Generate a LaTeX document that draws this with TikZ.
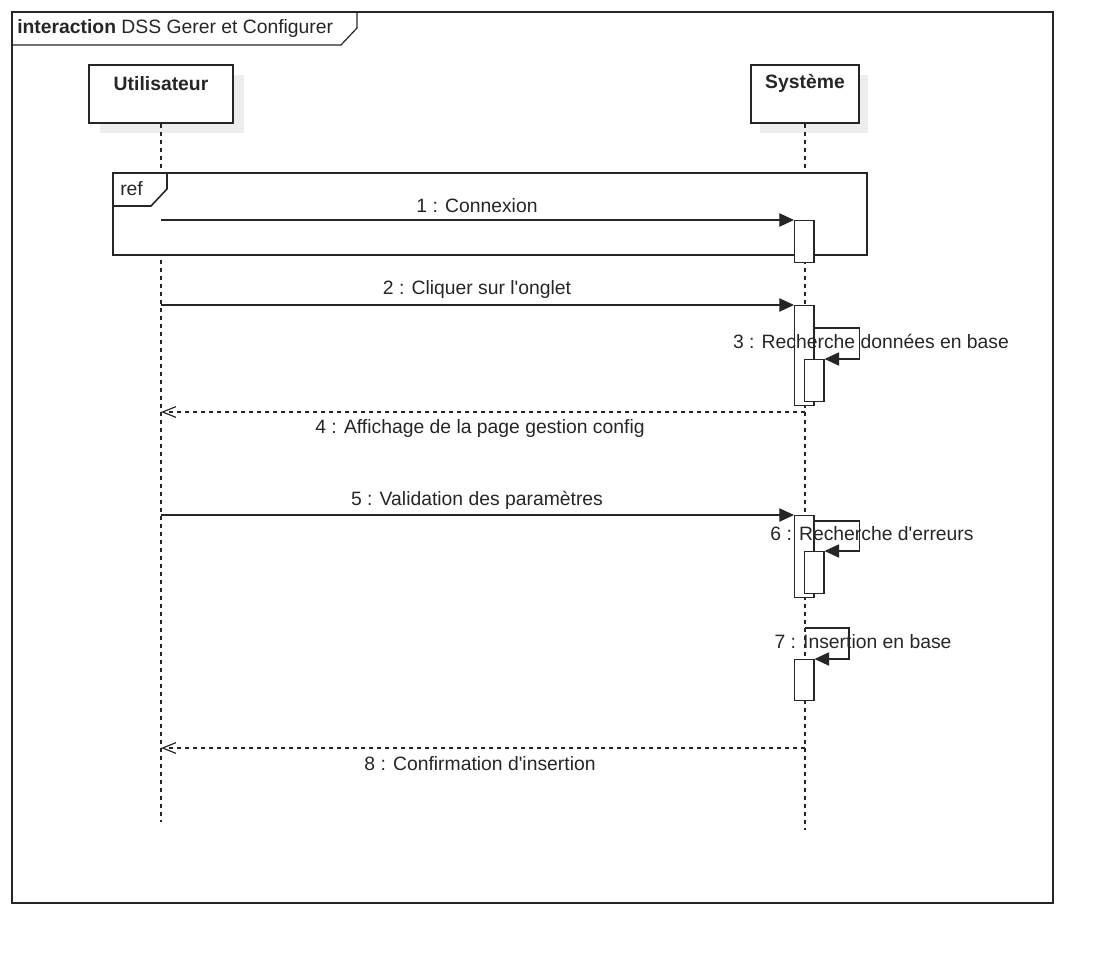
\documentclass[tikz,border=0pt]{standalone}
\usepackage{fontspec}
\setmainfont{Liberation Sans}
\usetikzlibrary{arrows.meta,calc}

\tikzset{
  every node/.style={font=\fontsize{14.5}{17}\selectfont, text=black!85},
  headbox/.style={draw=black!85, line width=0.9pt, fill=white, inner sep=0pt},
  shadowbox/.style={fill=black!7},
  lifeline/.style={draw=black!85, line width=0.9pt, dash pattern=on 3pt off 3pt},
  actbox/.style={draw=black!85, line width=0.9pt, fill=white, inner sep=0pt,
    minimum width=14.5pt, anchor=north west},
  callmsg/.style={draw=black!85, line width=0.9pt, -{Triangle[length=11pt,width=10pt]}},
  retmsg/.style={draw=black!85, line width=0.9pt, dash pattern=on 3pt off 3pt,
    -{Straight Barb[length=10pt,width=8pt]}},
  msglabel/.style={inner sep=0pt},
}

\begin{document}
\begin{tikzpicture}[x=0.75pt,y=-0.75pt]

\useasboundingbox (0,0) rectangle (1116,966);

% outer interaction frame
\draw[draw=black!85, line width=0.9pt] (12,12) rectangle (1053,903);
\draw[draw=black!85, line width=0.9pt] (12,12) -- (357,12) -- (357,28) -- (341,45) -- (12,45);
\node[anchor=west, inner sep=0pt] (title) at (17,29) {\textbf{interaction} DSS Gerer et Configurer};

% shadows behind the lifeline heads
\fill[shadowbox] (100,75) rectangle (244,133);
\fill[shadowbox] (760,75) rectangle (868,133);

% lifeline heads
\node[headbox, minimum width=108pt, minimum height=43.5pt] (user) at (161,94) {};
\node[font=\fontsize{14.5}{17}\selectfont\bfseries, inner sep=0pt] (usertxt) at ([yshift=-14.25pt]user.north) {Utilisateur};

\node[headbox, minimum width=81pt, minimum height=43.5pt] (sys) at (805,94) {};
\node[font=\fontsize{14.5}{17}\selectfont\bfseries, inner sep=0pt] (systxt) at ([yshift=-14.25pt]sys.north) {Système};

% lifelines
\coordinate (uend) at (161,822);
\coordinate (send) at (805,830);
\draw[lifeline] (user.south) -- (uend);
\draw[lifeline] (sys.south) -- (send);

% ref fragment
\draw[draw=black!85, line width=0.9pt, fill=white] (113,173) rectangle (867,255);
\draw[draw=black!85, line width=1.2pt] (113,173) -- (167,173) -- (167,189) -- (151,206) -- (113,206);
\node[anchor=west, inner sep=0pt] (reftxt) at (120,189) {ref};

% activations
\node[actbox, minimum height=31.5pt] (a1) at (794,220) {};
\node[actbox, minimum height=75pt] (a2) at (794,305) {};
\node[actbox, minimum height=31.5pt] (a3) at (804,359) {};
\node[actbox, minimum height=61.5pt] (a5) at (794,515) {};
\node[actbox, minimum height=31.5pt] (a6) at (804,551) {};
\node[actbox, minimum height=30.75pt] (a7) at (794,659) {};

% points on the lifelines
\coordinate (u1) at (161,220);
\coordinate (u2) at (161,305);
\coordinate (u4) at (161,412);
\coordinate (s4) at (805,412);
\coordinate (u5) at (161,515);
\coordinate (s7) at (805,628);
\coordinate (u8) at (161,748);
\coordinate (s8) at (805,748);

% messages
\draw[callmsg] (u1) -- (a1.north west);
\node[msglabel] (m1) at (477,206) {1 : Connexion};

\draw[callmsg] (u2) -- (a2.north west);
\node[msglabel] (m2) at (477,290) {2 : Cliquer sur l\textquotesingle onglet};

\node[msglabel] (m3) at (871,341) {3 : Recherche données en base};
\draw[callmsg] ([yshift=-17.25pt]a2.north east) -- ++(45,0) |- (a3.north east);

\draw[retmsg] (s4) -- (u4);
\node[msglabel] (m4) at (480,428) {4 : Affichage de la page gestion config};

\draw[callmsg] (u5) -- (a5.north west);
\node[msglabel] (m5) at (477,500) {5 : Validation des paramètres};

\node[msglabel] (m6) at (872,534) {6 : Recherche d\textquotesingle erreurs};
\draw[callmsg] ([yshift=-4.5pt]a5.north east) -- ++(45,0) |- (a6.north east);

\node[msglabel] (m7) at (863,642) {7 : Insertion en base};
\draw[callmsg] (s7) -- ++(44,0) |- (a7.north east);

\draw[retmsg] (s8) -- (u8);
\node[msglabel] (m8) at (480,764) {8 : Confirmation d\textquotesingle insertion};

\end{tikzpicture}
\end{document}
